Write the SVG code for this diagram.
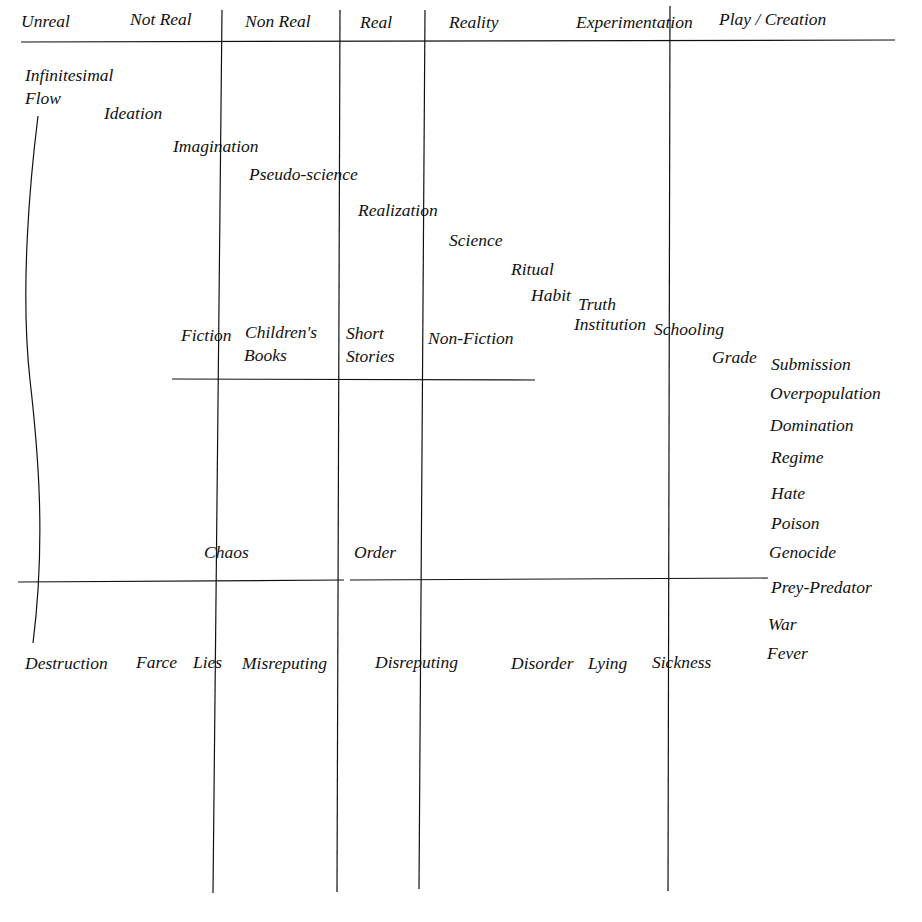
<svg xmlns="http://www.w3.org/2000/svg" width="922" height="922" viewBox="0 0 922 922">
<style>
.t text{font-style:italic;font-size:17.5px;fill:#111}
.ln{stroke:#111;stroke-width:1.2;fill:none}
</style>
<rect width="922" height="922" fill="#fff"/>
<g id="connectors">
<line class="ln" x1="21" y1="42" x2="895" y2="40"/>
<line class="ln" x1="222" y1="10" x2="213" y2="893"/>
<line class="ln" x1="340" y1="10" x2="337" y2="892"/>
<line class="ln" x1="425" y1="10" x2="419" y2="889"/>
<line class="ln" x1="670" y1="6" x2="668" y2="891"/>
<line class="ln" x1="172" y1="379" x2="535" y2="380"/>
<line class="ln" x1="18" y1="582" x2="344" y2="580"/>
<line class="ln" x1="350" y1="580" x2="768" y2="578"/>
<path class="ln" d="M38,116 C30,180 20,290 30,380 C38,450 46,540 33,643"/>
</g>
<g class="t" font-family="'Liberation Serif', 'DejaVu Serif', serif">
<g id="header">
<text x="21" y="27">Unreal</text>
<text x="130" y="25">Not Real</text>
<text x="245" y="27">Non Real</text>
<text x="360" y="28">Real</text>
<text x="449" y="28">Reality</text>
<text x="576" y="28">Experimentation</text>
<text x="719" y="25">Play / Creation</text>
</g>
<g id="n-infinitesimal"><text x="25" y="81">Infinitesimal</text><text x="25" y="104">Flow</text></g>
<g id="n-ideation"><text x="104" y="119">Ideation</text></g>
<g id="n-imagination"><text x="173" y="152">Imagination</text></g>
<g id="n-pseudo"><text x="249" y="180">Pseudo-science</text></g>
<g id="n-realization"><text x="358" y="216">Realization</text></g>
<g id="n-science"><text x="449" y="246">Science</text></g>
<g id="n-ritual"><text x="511" y="275">Ritual</text></g>
<g id="n-habit"><text x="531" y="301">Habit</text></g>
<g id="n-truth"><text x="578" y="310">Truth</text><text x="574" y="330">Institution</text></g>
<g id="n-schooling"><text x="654" y="335">Schooling</text></g>
<g id="n-grade"><text x="712" y="363">Grade</text></g>
<g id="n-submission"><text x="771" y="370">Submission</text></g>
<g id="n-overpopulation"><text x="770" y="399">Overpopulation</text></g>
<g id="n-domination"><text x="770" y="431">Domination</text></g>
<g id="n-regime"><text x="771" y="463">Regime</text></g>
<g id="n-hate"><text x="771" y="499">Hate</text></g>
<g id="n-poison"><text x="771" y="529">Poison</text></g>
<g id="n-genocide"><text x="769" y="558">Genocide</text></g>
<g id="n-prey"><text x="771" y="593">Prey-Predator</text></g>
<g id="n-war"><text x="768" y="630">War</text></g>
<g id="n-fever"><text x="767" y="659">Fever</text></g>
<g id="n-fiction"><text x="181" y="341">Fiction</text></g>
<g id="n-children"><text x="245" y="338">Children's</text><text x="244" y="361">Books</text></g>
<g id="n-short"><text x="346" y="339">Short</text><text x="346" y="362">Stories</text></g>
<g id="n-nonfiction"><text x="428" y="344">Non-Fiction</text></g>
<g id="n-chaos"><text x="204" y="558">Chaos</text></g>
<g id="n-order"><text x="354" y="558">Order</text></g>
<g id="n-destruction"><text x="25" y="669">Destruction</text></g>
<g id="n-farce"><text x="136" y="668">Farce</text></g>
<g id="n-lies"><text x="193" y="668">Lies</text></g>
<g id="n-misreputing"><text x="242" y="669">Misreputing</text></g>
<g id="n-disreputing"><text x="375" y="668">Disreputing</text></g>
<g id="n-disorder"><text x="511" y="669">Disorder</text></g>
<g id="n-lying"><text x="588" y="669">Lying</text></g>
<g id="n-sickness"><text x="652" y="668">Sickness</text></g>
</g>
</svg>
